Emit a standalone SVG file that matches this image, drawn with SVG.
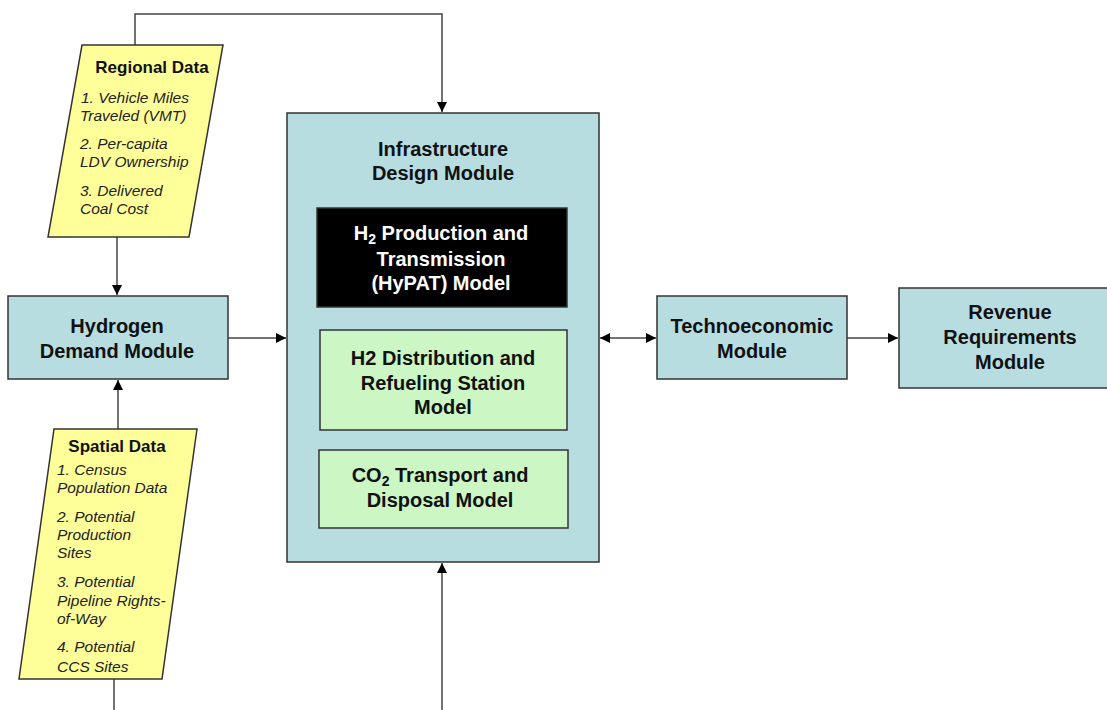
<svg xmlns="http://www.w3.org/2000/svg" width="1107" height="710" viewBox="0 0 1107 710">
<defs>
<style>
.mod{fill:#b7dde1;stroke:#333;stroke-width:1.5}
.data{fill:#ffff99;stroke:#333;stroke-width:1.5}
.grn{fill:#ccf7c4;stroke:#333;stroke-width:1.5}
.blk{fill:#000;stroke:#333;stroke-width:1.5}
.t{font-family:"Liberation Sans",Arial,sans-serif;font-weight:bold;font-size:20px;fill:#111;text-anchor:middle}
.tw{fill:#fff}
.h{font-family:"Liberation Sans",Arial,sans-serif;font-weight:bold;font-size:17px;fill:#111;text-anchor:middle}
.i{font-family:"Liberation Sans",Arial,sans-serif;font-style:italic;font-size:15.5px;fill:#222}
.c{fill:none;stroke:#444;stroke-width:1.5}
</style>
<marker id="ah" viewBox="0 0 10 10" refX="10" refY="5" markerWidth="10" markerHeight="10" markerUnits="userSpaceOnUse" orient="auto-start-reverse">
<path d="M0,0 L10,5 L0,10 z" fill="#000"/>
</marker>
</defs>
<rect width="1107" height="710" fill="#fff"/>
<g id="connectors">
<polyline class="c" points="135,45 135,14 442,14 442,112" marker-end="url(#ah)"/>
<line class="c" x1="117" y1="237" x2="117" y2="295" marker-end="url(#ah)"/>
<line class="c" x1="118" y1="429" x2="118" y2="380" marker-end="url(#ah)"/>
<line class="c" x1="114" y1="679" x2="114" y2="710"/>
<line class="c" x1="228" y1="338" x2="286" y2="338" marker-end="url(#ah)"/>
<line class="c" x1="442" y1="710" x2="442" y2="563" marker-end="url(#ah)"/>
<line class="c" x1="600" y1="338" x2="656" y2="338" marker-start="url(#ah)" marker-end="url(#ah)"/>
<line class="c" x1="847" y1="338" x2="898" y2="338" marker-end="url(#ah)"/>
</g>
<g id="regional-data">
<polygon class="data" points="82,45 223,45 189,237 48,237"/>
<text class="h" x="152" y="73">Regional Data</text>
<text class="i" x="81" y="103">1. Vehicle Miles</text>
<text class="i" x="80" y="121">Traveled (VMT)</text>
<text class="i" x="80" y="149">2. Per-capita</text>
<text class="i" x="80" y="167">LDV Ownership</text>
<text class="i" x="80" y="196">3. Delivered</text>
<text class="i" x="80" y="214">Coal Cost</text>
</g>
<g id="spatial-data">
<polygon class="data" points="54,429 197,429 162,679 19,679"/>
<text class="h" x="117" y="452">Spatial Data</text>
<text class="i" x="57" y="475">1. Census</text>
<text class="i" x="57" y="493">Population Data</text>
<text class="i" x="57" y="522">2. Potential</text>
<text class="i" x="57" y="540">Production</text>
<text class="i" x="57" y="558">Sites</text>
<text class="i" x="57" y="587">3. Potential</text>
<text class="i" x="57" y="606">Pipeline Rights-</text>
<text class="i" x="57" y="624">of-Way</text>
<text class="i" x="57" y="652">4. Potential</text>
<text class="i" x="57" y="672">CCS Sites</text>
</g>
<g id="hydrogen-demand">
<rect class="mod" x="8" y="296" width="220" height="83"/>
<text class="t" x="117" y="333">Hydrogen</text>
<text class="t" x="117" y="358">Demand Module</text>
</g>
<g id="infrastructure">
<rect class="mod" x="287" y="113" width="312" height="449"/>
<text class="t" x="443" y="156">Infrastructure</text>
<text class="t" x="443" y="180">Design Module</text>
</g>
<g id="hypat">
<rect class="blk" x="317" y="208" width="250" height="99"/>
<text class="t tw" x="441" y="240">H<tspan font-size="14" dy="4">2</tspan><tspan dy="-4"> Production and</tspan></text>
<text class="t tw" x="441" y="266">Transmission</text>
<text class="t tw" x="441" y="290">(HyPAT) Model</text>
</g>
<g id="h2-distribution">
<rect class="grn" x="320" y="330" width="247" height="100"/>
<text class="t" x="443" y="365">H2 Distribution and</text>
<text class="t" x="443" y="390">Refueling Station</text>
<text class="t" x="443" y="414">Model</text>
</g>
<g id="co2-transport">
<rect class="grn" x="319" y="450" width="249" height="78"/>
<text class="t" x="440" y="482">CO<tspan font-size="14" dy="4">2</tspan><tspan dy="-4"> Transport and</tspan></text>
<text class="t" x="440" y="507">Disposal Model</text>
</g>
<g id="technoeconomic">
<rect class="mod" x="657" y="296" width="190" height="83"/>
<text class="t" x="752" y="333">Technoeconomic</text>
<text class="t" x="752" y="358">Module</text>
</g>
<g id="revenue">
<rect class="mod" x="899" y="288" width="210" height="100"/>
<text class="t" x="1010" y="319">Revenue</text>
<text class="t" x="1010" y="344">Requirements</text>
<text class="t" x="1010" y="369">Module</text>
</g>
</svg>
